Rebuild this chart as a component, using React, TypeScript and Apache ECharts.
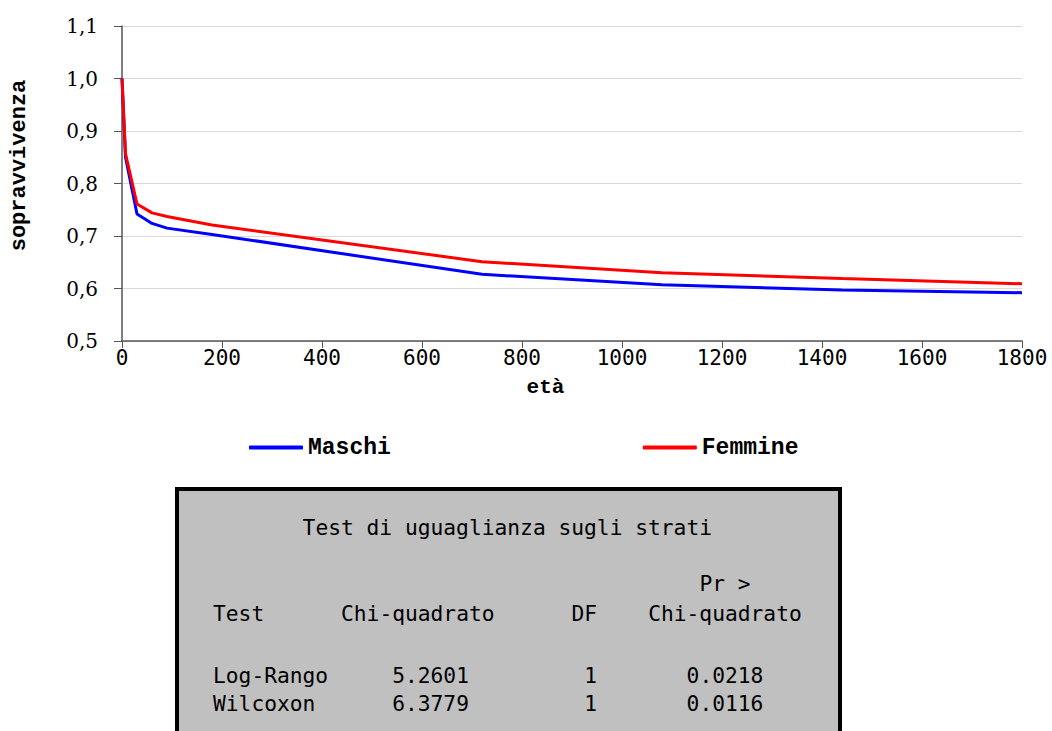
import React, { useEffect, useRef } from "react";
import * as echarts from "echarts";

const days = [0, 7, 30, 60, 90, 180, 720, 1080, 1440, 1800];
const maschi = [1.0, 0.85, 0.742, 0.724, 0.715, 0.703, 0.627, 0.607, 0.597, 0.592];
const femmine = [1.0, 0.857, 0.761, 0.744, 0.737, 0.721, 0.651, 0.63, 0.619, 0.609];
const seriesNames = ["Maschi", "Femmine"];
const seriesColors = ["#0000ff", "#ff0000"];

const tableTitle = "Test di uguaglianza sugli strati";
const tableHeader = ["Test", "Chi-quadrato", "DF", "Chi-quadrato"];
const tableHeaderTop = "Pr >";
const tableRows = [
  ["Log-Rango", "5.2601", "1", "0.0218"],
  ["Wilcoxon", "6.3779", "1", "0.0116"],
];

const COURIER = "Courier New";
const SANSMONO = "DejaVu Sans Mono";
const SERIF = "DejaVu Serif";

export default function App() {
  const ref = useRef<HTMLDivElement>(null);
  useEffect(() => {
    if (!ref.current) return;
    const chart = echarts.init(ref.current, null, { renderer: "svg" });
    const cw = 12.8;
    const x0 = 213;
    const headerCols = [0, 10, 28, 34];
    const rowCols = [0, 14, 29, 37];
    const tStyle = { fontFamily: SANSMONO, fontSize: 21.25, fill: "#000" };
    const tableTexts: any[] = [];
    tableTexts.push({
      type: "text",
      x: x0 + 7 * cw,
      y: 527,
      style: { ...tStyle, text: tableTitle, textVerticalAlign: "middle" },
    });
    tableTexts.push({
      type: "text",
      x: x0 + 38 * cw,
      y: 583,
      style: { ...tStyle, text: tableHeaderTop, textVerticalAlign: "middle" },
    });
    tableHeader.forEach((h, i) => {
      tableTexts.push({
        type: "text",
        x: x0 + headerCols[i] * cw,
        y: 613,
        style: { ...tStyle, text: h, textVerticalAlign: "middle" },
      });
    });
    tableRows.forEach((row, r) => {
      row.forEach((c, i) => {
        tableTexts.push({
          type: "text",
          x: x0 + rowCols[i] * cw,
          y: 675 + r * 28,
          style: { ...tStyle, text: c, textVerticalAlign: "middle" },
        });
      });
    });

    chart.setOption({
      animation: false,
      backgroundColor: "#fff",
      textStyle: { fontFamily: SERIF },
      grid: { left: 117, right: 30, top: 26, bottom: 390, containLabel: false },
      legend: {
        left: 244,
        top: 431,
        itemWidth: 54,
        itemHeight: 4,
        itemGap: 252,
        icon: "roundRect",
        data: seriesNames,
        textStyle: { fontFamily: COURIER, fontWeight: "bold", fontSize: 23, color: "#000" },
      },
      xAxis: {
        type: "value",
        min: 0,
        max: 1800,
        interval: 200,
        name: "età",
        nameLocation: "middle",
        nameGap: 36,
        nameTextStyle: {
          fontFamily: COURIER,
          fontWeight: "bold",
          fontSize: 21,
          color: "#000",
          padding: [0, 53, 0, 0],
        },
        axisLine: { show: true, lineStyle: { color: "#555", width: 1.5 } },
        axisTick: { show: true, inside: false, length: 7, lineStyle: { color: "#555" } },
        axisLabel: {
          fontFamily: SANSMONO,
          fontSize: 21,
          color: "#000",
          margin: 6,
          formatter: (v: number) => String(v),
        },
        splitLine: { show: false },
      },
      yAxis: {
        type: "value",
        min: 0.5,
        max: 1.1,
        interval: 0.1,
        name: "sopravvivenza",
        nameLocation: "middle",
        nameGap: 92,
        nameRotate: 90,
        nameTextStyle: {
          fontFamily: COURIER,
          fontWeight: "bold",
          fontSize: 22,
          color: "#000",
          padding: [0, 0, 0, 36],
        },
        axisLine: { show: true, lineStyle: { color: "#555", width: 1.5 } },
        axisTick: { show: true, length: 8, lineStyle: { color: "#555" } },
        axisLabel: {
          fontFamily: SERIF,
          fontSize: 20,
          color: "#000",
          margin: 24,
          formatter: (v: number) => v.toFixed(1).replace(".", ","),
        },
        splitLine: { show: true, lineStyle: { color: "#d9d9d9", width: 1 } },
      },
      series: [
        {
          name: seriesNames[0],
          type: "line",
          data: days.map((d, i) => [d, maschi[i]]),
          showSymbol: false,
          symbol: "none",
          color: seriesColors[0],
          lineStyle: { color: seriesColors[0], width: 3 },
        },
        {
          name: seriesNames[1],
          type: "line",
          data: days.map((d, i) => [d, femmine[i]]),
          showSymbol: false,
          symbol: "none",
          color: seriesColors[1],
          lineStyle: { color: seriesColors[1], width: 3 },
        },
      ],
      graphic: [
        {
          type: "rect",
          shape: { x: 177, y: 489, width: 663, height: 270 },
          style: { fill: "#c0c0c0", stroke: "#000", lineWidth: 4 },
        },
        ...tableTexts,
      ],
    });
    return () => chart.dispose();
  }, []);
  return (
    <div
      ref={ref}
      style={{ position: "absolute", left: 0, top: 0, width: 1052, height: 731 }}
    />
  );
}
